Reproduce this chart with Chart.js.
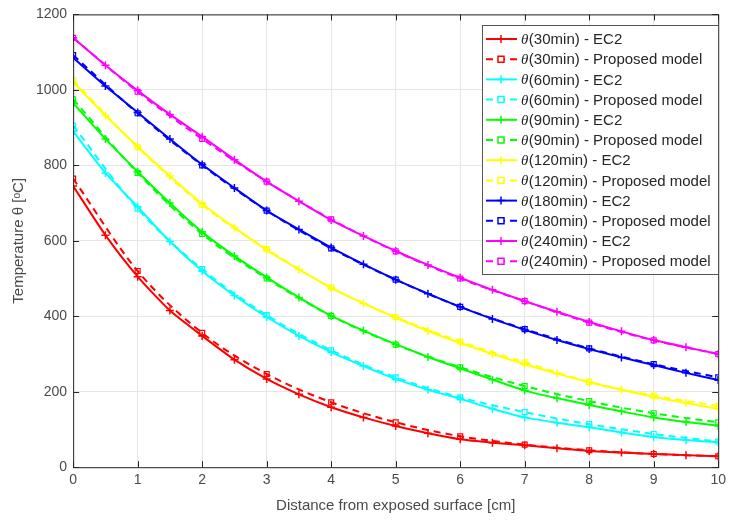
<!DOCTYPE html>
<html>
<head>
<meta charset="utf-8">
<script src="https://cdn.jsdelivr.net/npm/chart.js@4.4.0/dist/chart.umd.min.js"></script>
<style>
  html, body { margin: 0; padding: 0; background: #fff; }
</style>
</head>
<body>
<canvas id="chart" width="731" height="521"></canvas>
<script>
// distances [cm]
const distEc2 = [0, 0.5, 1, 1.5, 2, 2.5, 3, 3.5, 4, 4.5, 5, 5.5, 6, 6.5, 7, 7.5, 8, 8.5, 9, 9.5, 10];
const distModel = [0, 1, 2, 3, 4, 5, 6, 7, 8, 9, 10];
const xTicks = [0, 1, 2, 3, 4, 5, 6, 7, 8, 9, 10];
const yTicks = [0, 200, 400, 600, 800, 1000, 1200];

const times = ['30min', '60min', '90min', '120min', '180min', '240min'];
const colors = ['#ff0000', '#00ffff', '#00ff00', '#ffff00', '#0000ff', '#ff00ff'];

// EC2 temperatures [°C]
const ec2_30  = [745, 615, 505, 415, 348, 285, 234, 193, 159, 132, 109, 90, 74, 65, 58, 50, 43, 39, 35, 32, 29];
const ec2_60  = [890, 780, 690, 598, 520, 455, 398, 348, 305, 268, 234, 205, 181, 155, 132, 118, 106, 92, 80, 72, 66];
const ec2_90  = [965, 870, 783, 700, 623, 560, 503, 450, 401, 362, 326, 292, 262, 232, 203, 183, 165, 148, 132, 120, 110];
const ec2_120 = [1020, 932, 850, 772, 698, 635, 576, 524, 475, 434, 396, 361, 329, 300, 273, 248, 225, 205, 186, 170, 154];
const ec2_180 = [1085, 1010, 940, 870, 802, 740, 680, 630, 582, 538, 497, 460, 425, 393, 364, 337, 313, 291, 271, 250, 231];
const ec2_240 = [1138, 1065, 998, 935, 876, 815, 757, 705, 655, 613, 573, 536, 502, 470, 440, 412, 385, 360, 337, 318, 300];

// Proposed model temperatures [°C]
const model_30  = [765, 520, 356, 247, 172, 119, 82, 60, 45, 35, 29];
const model_60  = [905, 685, 525, 403, 310, 238, 185, 146, 114, 88, 68];
const model_90  = [975, 780, 618, 500, 401, 325, 265, 215, 175, 143, 119];
const model_120 = [1025, 848, 695, 578, 476, 398, 333, 278, 226, 190, 162];
const model_180 = [1092, 938, 800, 680, 580, 497, 425, 366, 315, 273, 238];
const model_240 = [1138, 995, 870, 757, 657, 572, 500, 440, 383, 336, 300];

const ec2All = [ec2_30, ec2_60, ec2_90, ec2_120, ec2_180, ec2_240];
const modelAll = [model_30, model_60, model_90, model_120, model_180, model_240];

const FONT = "'Liberation Sans', Arial, sans-serif";
const TEXT = '#4a4a4a';

const datasets = [];
times.forEach((t, i) => {
  datasets.push({
    label: '(' + t + ') - EC2',
    data: distEc2.map((x, k) => ({ x: x, y: ec2All[i][k] })),
    borderColor: colors[i],
    backgroundColor: colors[i],
    borderWidth: 2,
    pointStyle: 'cross',
    pointRadius: 4,
    pointBorderWidth: 1.5,
    tension: 0.2,
    isModel: false
  });
  datasets.push({
    label: '(' + t + ') - Proposed model',
    data: distModel.map((x, k) => ({ x: x, y: modelAll[i][k] })),
    borderColor: colors[i],
    backgroundColor: 'rgba(0,0,0,0)',
    borderWidth: 2,
    borderDash: [7, 5],
    pointStyle: 'rect',
    pointRadius: 3.5,
    pointBorderWidth: 1.2,
    cubicInterpolationMode: 'monotone',
    isModel: true
  });
});

const boxPlugin = {
  id: 'box',
  afterDraw(chart) {
    const ctx = chart.ctx;
    const a = chart.chartArea;
    const xs = chart.scales.x, ys = chart.scales.y;
    ctx.save();
    ctx.strokeStyle = '#262626';
    ctx.lineWidth = 1;
    ctx.strokeRect(a.left + 0.5, a.top + 0.5, a.right - a.left, a.bottom - a.top);
    // inward ticks, all four sides
    ctx.beginPath();
    xTicks.forEach(v => {
      const px = Math.round(xs.getPixelForValue(v)) + 0.5;
      ctx.moveTo(px, a.bottom); ctx.lineTo(px, a.bottom - 6);
      ctx.moveTo(px, a.top); ctx.lineTo(px, a.top + 6);
    });
    yTicks.forEach(v => {
      const py = Math.round(ys.getPixelForValue(v)) + 0.5;
      ctx.moveTo(a.left, py); ctx.lineTo(a.left + 6, py);
      ctx.moveTo(a.right, py); ctx.lineTo(a.right - 6, py);
    });
    ctx.stroke();

    // legend
    const lx = 482, ly = 25, lw = 236, lh = 249;
    ctx.fillStyle = '#fff';
    ctx.fillRect(lx, ly, lw, lh);
    ctx.strokeStyle = '#555';
    ctx.lineWidth = 1;
    ctx.strokeRect(lx + 0.5, ly + 0.5, lw, lh);
    const rowH = 20.2;
    chart.data.datasets.forEach((ds, i) => {
      const cy = ly + 14 + i * rowH;
      ctx.strokeStyle = ds.borderColor;
      ctx.lineWidth = 2;
      ctx.setLineDash(ds.isModel ? [7, 5] : []);
      ctx.beginPath();
      ctx.moveTo(486, cy); ctx.lineTo(517, cy);
      ctx.stroke();
      ctx.setLineDash([]);
      ctx.lineWidth = 1.5;
      ctx.beginPath();
      if (ds.isModel) {
        ctx.fillStyle = '#fff';
        ctx.fillRect(498, cy - 3, 6, 6);
        ctx.rect(498, cy - 3, 6, 6);
      } else {
        ctx.moveTo(497, cy); ctx.lineTo(505, cy);
        ctx.moveTo(501, cy - 4); ctx.lineTo(501, cy + 4);
      }
      ctx.stroke();
      ctx.fillStyle = '#262626';
      ctx.textBaseline = 'middle';
      ctx.font = "italic 15px 'Liberation Serif', 'DejaVu Serif', serif";
      ctx.fillText('\u03B8', 521, cy + 1);
      const w = ctx.measureText('\u03B8').width;
      ctx.font = '15px ' + FONT;
      ctx.fillText(ds.label, 521 + w + 0.5, cy + 1);
    });
    ctx.restore();
  }
};

new Chart(document.getElementById('chart').getContext('2d'), {
  type: 'line',
  data: { datasets: datasets },
  options: {
    responsive: false,
    animation: false,
    layout: { padding: { top: 10, right: 4, bottom: 6, left: 10 } },
    plugins: { legend: { display: false }, tooltip: { enabled: false } },
    scales: {
      x: {
        type: 'linear',
        min: 0, max: 10,
        afterBuildTicks: s => { s.ticks = xTicks.map(v => ({ value: v })); },
        grid: { color: '#e6e6e6', drawTicks: false },
        border: { display: false },
        ticks: { color: TEXT, font: { family: FONT, size: 14 }, padding: 5, maxRotation: 0 },
        title: { display: true, text: 'Distance from exposed surface [cm]', color: TEXT, font: { family: FONT, size: 15 }, padding: { top: 3, bottom: 0 } }
      },
      y: {
        min: 0, max: 1200,
        afterBuildTicks: s => { s.ticks = yTicks.map(v => ({ value: v })); },
        grid: { color: '#e6e6e6', drawTicks: false },
        border: { display: false },
        ticks: { color: TEXT, font: { family: FONT, size: 14 }, padding: 6, callback: v => String(v) },
        title: { display: true, text: 'Temperature \u03B8 [\u1D52C]', color: TEXT, font: { family: FONT, size: 15 }, padding: { top: 0, bottom: 2 } }
      }
    }
  },
  plugins: [boxPlugin]
});
</script>
</body>
</html>
